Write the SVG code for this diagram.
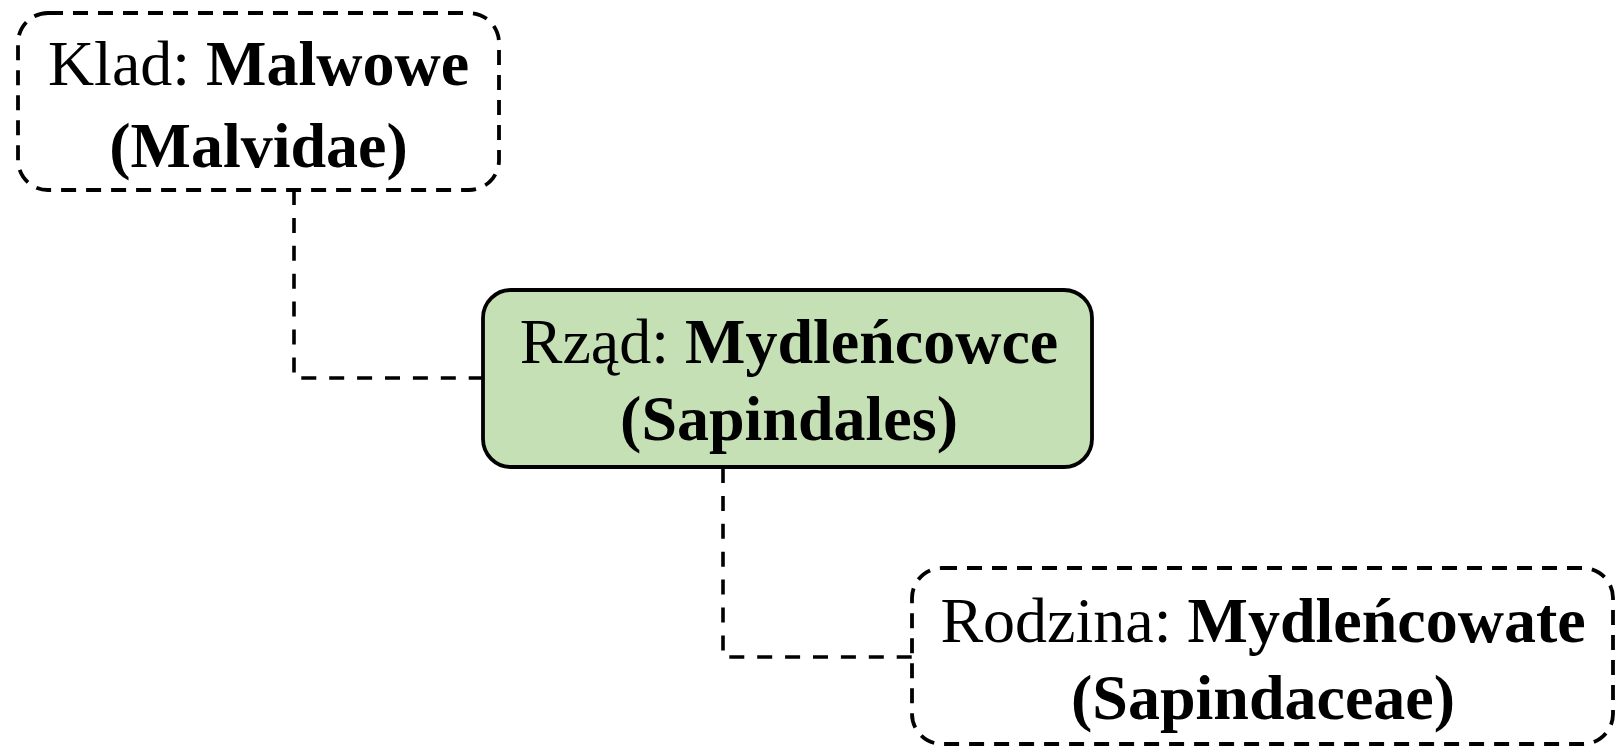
<svg xmlns="http://www.w3.org/2000/svg" width="1623" height="749" viewBox="0 0 1623 749">
<style>
.dash{fill:none;stroke:#000;stroke-width:3.8;stroke-dasharray:15 10}
.solid{fill:#c5e0b4;stroke:#000;stroke-width:3.8}
.conn{fill:none;stroke:#000;stroke-width:3.6;stroke-dasharray:15 12.9}
text{font-family:"Liberation Serif","Times New Roman",serif;font-size:64px;fill:#000;text-anchor:middle}
.b{font-weight:bold}
</style>
<rect width="1623" height="749" fill="#fff"/>
<g id="connectors">
<polyline class="conn" points="294,190 294,378 483,378"/>
<polyline class="conn" points="723,468 723,657 912,657"/>
</g>
<g id="klad">
<rect class="dash" x="18" y="13" width="481" height="177" rx="30" ry="30"/>
<text x="258.5" y="85">Klad: <tspan class="b">Malwowe</tspan></text>
<text x="258.5" y="167" class="b">(Malvidae)</text>
</g>
<g id="rzad">
<rect class="solid" x="483" y="290" width="609" height="177" rx="28" ry="28"/>
<text x="789" y="363">Rząd: <tspan class="b">Mydleńcowce</tspan></text>
<text x="789" y="440" class="b">(Sapindales)</text>
</g>
<g id="rodzina">
<rect class="dash" x="912" y="568" width="701" height="176" rx="30" ry="30"/>
<text x="1263" y="642">Rodzina: <tspan class="b">Mydleńcowate</tspan></text>
<text x="1263" y="719" class="b">(Sapindaceae)</text>
</g>
</svg>
